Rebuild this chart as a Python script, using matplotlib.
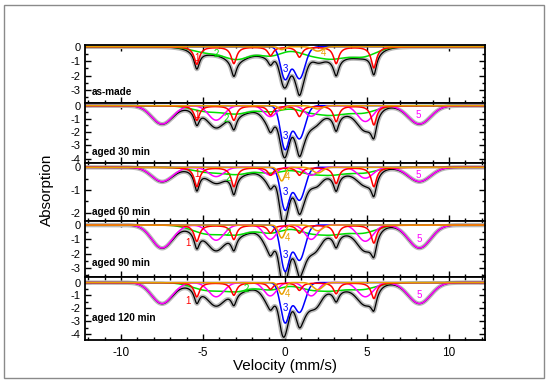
"""Mossbauer spectra of the as-made and aged samples, five stacked panels."""

import matplotlib

matplotlib.use("Agg")
import matplotlib.pyplot as plt  # noqa: E402
import numpy as np  # noqa: E402
from matplotlib.patches import Rectangle  # noqa: E402
from matplotlib.ticker import MultipleLocator  # noqa: E402

plt.rcParams.update({"font.family": ["Liberation Sans", "DejaVu Sans"],
                     "axes.unicode_minus": False})

RED, GREEN, BLUE, ORANGE, MAGENTA = "#ff0000", "#00e000", "#0000ff", "#e8a000", "#ff00ff"

SAMPLES = ["as-made", "aged 30 min", "aged 60 min", "aged 90 min", "aged 120 min"]
YTICKS = [[0, -1, -2, -3], [0, -1, -2, -3, -4], [0, -1, -2], [0, -1, -2, -3], [0, -1, -2, -3, -4]]
YLIMS = [(-3.88, 0.12), (-4.34, 0.2), (-2.37, 0.19), (-3.62, 0.28), (-4.44, 0.43)]

# line positions (mm/s) and half widths of the subspectra
RED_POS = [-5.38, -3.12, -0.88, 0.88, 3.12, 5.42]
RED_HW = [0.2, 0.2, 0.2, 0.2, 0.2, 0.2]
GREEN_POS = [-4.7, -2.9, -0.9, 1.5, 2.9, 4.7]
GREEN_HW = [1.1, 0.9, 0.9, 0.9, 0.9, 1.0]
BLUE_POS = [0.0, 0.88]
BLUE_HW = [0.32, 0.4]
ORANGE_POS = [-0.2, 2.0]
ORANGE_HW = [0.22, 0.35]
MAG_POS = [-7.5, -4.2, -0.9, 1.6, 4.9, 8.2]
MAG_HW = [0.75, 0.55, 0.45, 0.45, 0.55, 0.8]

# line depths, one row per sample
RED_DEPTH = [
    [1.2, 1.15, 0.6, 0.7, 1.15, 1.45],
    [1.1, 1.1, 0.7, 0.8, 1.2, 1.45],
    [0.85, 0.85, 0.34, 0.34, 0.71, 0.85],
    [1.13, 1.0, 0.55, 0.55, 0.9, 1.25],
    [1.1, 0.97, 0.5, 0.59, 0.85, 1.23],
]
GREEN_DEPTH = [
    [0.42, 0.8, 0.62, 0.5, 0.7, 0.68],
    [0.45, 0.55, 0.45, 0.45, 0.6, 0.55],
    [0.22, 0.28, 0.25, 0.25, 0.28, 0.25],
    [0.62, 0.58, 0.55, 0.5, 0.55, 0.55],
    [0.6, 0.6, 0.55, 0.48, 0.52, 0.52],
]
BLUE_DEPTH = [[2.2, 2.2], [3.25, 2.5], [1.85, 1.45], [3.15, 2.45], [3.05, 2.3]]
ORANGE_DEPTH = [[0.2, 0.3], [0.3, 0.25], [0.6, 0.25], [0.9, 0.4], [0.9, 0.55]]
MAG_DEPTH = [
    None,
    [1.39, 1.1, 0.83, 0.8, 1.2, 1.39],
    [0.63, 0.41, 0.34, 0.35, 0.48, 0.63],
    [1.6, 1.06, 1.0, 1.0, 1.13, 1.6],
    [1.62, 1.1, 1.03, 1.03, 1.1, 1.62],
]

# subspectrum number labels: (text, colour, velocity, absorption)
LABELS = [
    [("1", RED, -5.38, -0.8), ("2", GREEN, -4.17, -0.5), ("3", BLUE, 0.05, -1.55), ("4", ORANGE, 2.34, -0.46)],
    [("1", RED, -5.38, -0.7), ("2", GREEN, -3.56, -1.0), ("3", BLUE, 0.05, -2.3), ("5", MAGENTA, 8.13, -0.7)],
    [("1", RED, -5.38, -0.3), ("2", GREEN, -3.45, -0.49), ("3", BLUE, 0.05, -1.07), ("4", ORANGE, 0.15, -0.41),
     ("5", MAGENTA, 8.13, -0.34)],
    [("1", RED, -5.9, -1.25), ("2", GREEN, -3.45, -0.54), ("3", BLUE, 0.05, -2.08), ("4", ORANGE, 0.15, -0.9),
     ("5", MAGENTA, 8.2, -0.97)],
    [("1", RED, -5.9, -1.44), ("2", GREEN, -2.38, -0.52), ("3", BLUE, 0.05, -2.0), ("4", ORANGE, 0.15, -0.85),
     ("5", MAGENTA, 8.2, -0.98)],
]

# panel edges in pixels (top, bottom) of a 549x382 figure, and sample label heights
PANEL_PX = [(45, 103), (103, 163), (163, 221), (221, 277), (277, 340)]
NAME_PX = [91.7, 151.7, 211.7, 262.7, 317.7]
W, H = 549, 382


def lorentz(v, pos, hw, depth):
    out = np.zeros_like(v)
    for p, g, d in zip(pos, hw, depth):
        out -= d / (1 + ((v - p) / g) ** 2)
    return out


def gauss(v, pos, hw, depth):
    out = np.zeros_like(v)
    for p, g, d in zip(pos, hw, depth):
        out -= d * np.exp(-np.log(2) * ((v - p) / g) ** 2)
    return out


v = np.linspace(-12.2, 12.2, 1500)
fig = plt.figure(figsize=(W / 100, H / 100), dpi=100)
fig.patches.append(Rectangle((4 / W, 4 / H), 540 / W, 373 / H, transform=fig.transFigure,
                             fill=False, edgecolor="#8a8a8a", lw=1.0))

for i, name in enumerate(SAMPLES):
    top, bot = PANEL_PX[i]
    ax = fig.add_axes([85 / W, 1 - bot / H, 400 / W, (bot - top) / H])
    comps = [
        (GREEN, gauss(v, GREEN_POS, GREEN_HW, GREEN_DEPTH[i])),
        (BLUE, gauss(v, BLUE_POS, BLUE_HW, BLUE_DEPTH[i])),
    ]
    if MAG_DEPTH[i] is not None:
        comps.append((MAGENTA, gauss(v, MAG_POS, MAG_HW, MAG_DEPTH[i])))
    comps.append((RED, lorentz(v, RED_POS, RED_HW, RED_DEPTH[i])))
    comps.append((ORANGE, gauss(v, ORANGE_POS, ORANGE_HW, ORANGE_DEPTH[i])))
    total = sum(c for _, c in comps)

    ax.plot(v, total, color="#b8b8b8", lw=3.2, solid_capstyle="butt")
    ax.plot(v, total, color="black", lw=0.9)
    for color, c in comps:
        ax.plot(v, c, color=color, lw=1.1)
    for txt, color, x, y in LABELS[i]:
        ax.text(x, y, txt, color=color, fontsize=7, ha="center", va="center")
    fig.text(92 / W, 1 - NAME_PX[i] / H, name, fontsize=7.2, fontweight="bold", va="center")

    ax.set_xlim(-12.2, 12.2)
    ax.set_ylim(*YLIMS[i])
    ax.set_yticks(YTICKS[i])
    ax.yaxis.set_minor_locator(MultipleLocator(0.5))
    ax.xaxis.set_major_locator(MultipleLocator(5))
    ax.xaxis.set_minor_locator(MultipleLocator(1))
    ax.tick_params(which="both", direction="in", top=True, right=True, width=1.0, labelsize=8)
    ax.tick_params(which="major", length=4)
    ax.tick_params(which="minor", length=2)
    ax.tick_params(axis="y", pad=3)
    ax.tick_params(axis="x", pad=5)
    for s in ax.spines.values():
        s.set_linewidth(1.3)
    if i < len(SAMPLES) - 1:
        ax.tick_params(labelbottom=False)
    else:
        ax.set_xticks([-10, -5, 0, 5, 10])
        ax.set_xticklabels(["-10", "-5", "0", "5", "10"], fontsize=8.5)

fig.text(47 / W, 1 - 190 / H, "Absorption", rotation=90, ha="center", va="center", fontsize=11)
fig.text(285 / W, 1 - 366 / H, "Velocity (mm/s)", ha="center", va="center", fontsize=11)

fig.savefig("out.png", dpi=100)
